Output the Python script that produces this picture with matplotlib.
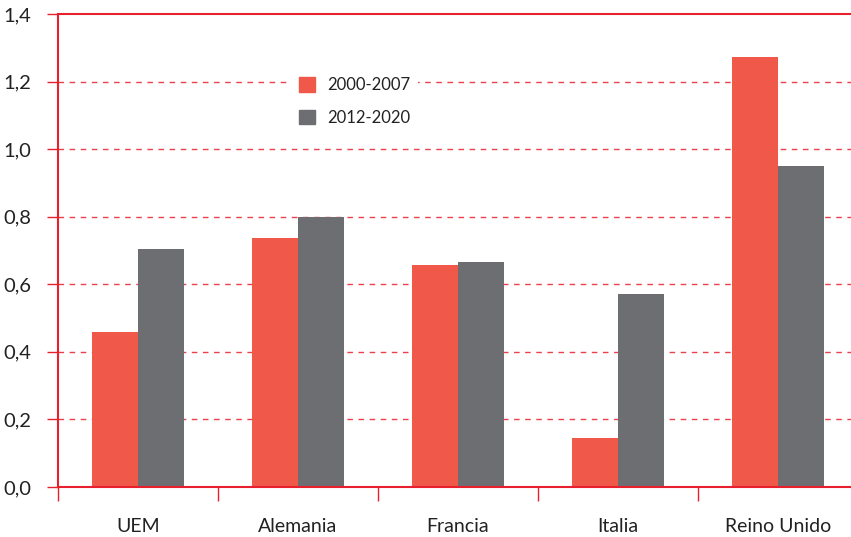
import matplotlib
matplotlib.use("Agg")
import matplotlib.pyplot as plt
import numpy as np
from matplotlib.patches import Patch

categories = ["UEM", "Alemania", "Francia", "Italia", "Reino Unido"]
series_labels = ["2000-2007", "2012-2020"]
s2000 = [0.459, 0.737, 0.657, 0.145, 1.273]
s2012 = [0.704, 0.799, 0.666, 0.571, 0.950]
yticks = [0.0, 0.2, 0.4, 0.6, 0.8, 1.0, 1.2, 1.4]
ytick_labels = ["0,0", "0,2", "0,4", "0,6", "0,8", "1,0", "1,2", "1,4"]

RED = "#f0584a"
GRAY = "#6d6e72"
AX = "#e8202e"
plt.rcParams['font.family'] = ['Lato', 'DejaVu Sans']

W, H = 851, 537
fig = plt.figure(figsize=(W/100, H/100), dpi=100)
ax = fig.add_axes([58/W, 1-487/H, 800/W, 473/H])

x = np.arange(len(categories))
bw = 0.285
ax.bar(x - bw/2, s2000, bw, color=RED, zorder=3, label=series_labels[0])
ax.bar(x + bw/2, s2012, bw, color=GRAY, zorder=3, label=series_labels[1])

ax.set_xlim(-0.5, len(categories) - 0.5)
ax.set_ylim(0, 1.4)
ax.set_yticks(yticks)
ax.set_yticklabels(ytick_labels, fontsize=14.5, color="#222222")
ax.set_xticks(x)
ax.set_xticklabels(categories, fontsize=14, color="#222222")
ax.tick_params(axis='x', length=0, pad=22)
ax.tick_params(axis='y', length=8, color=AX, width=1, pad=11)
ax.set_xticks(np.arange(-0.5, len(categories) + 0.5, 1), minor=True)
ax.tick_params(axis='x', which='minor', length=10, color=AX, width=1)

for yv in yticks[1:-1]:
    ax.axhline(yv, color=AX, lw=1, ls=(0, (4, 4)), zorder=1, alpha=0.85)
ax.axhline(1.4, color=AX, lw=1.5, zorder=1, clip_on=False)

for s in ['right', 'top']:
    ax.spines[s].set_visible(False)
for s in ['left', 'bottom']:
    ax.spines[s].set_color(AX)
    ax.spines[s].set_linewidth(1.5)
ax.spines['bottom'].set_zorder(4)

handles = [Patch(color=RED), Patch(color=GRAY)]
leg = ax.legend(handles, series_labels, loc='upper left',
                bbox_to_anchor=(224/800, (487-60)/473), frameon=True,
                fancybox=False, facecolor="white", edgecolor="none",
                framealpha=1.0, borderpad=0.5, borderaxespad=0.5,
                fontsize=12, handlelength=1.0, handleheight=1.0,
                handletextpad=0.7, labelspacing=1.0)
leg.set_zorder(5)
for t in leg.get_texts():
    t.set_color("#222222")

fig.savefig("out.png", dpi=100)
